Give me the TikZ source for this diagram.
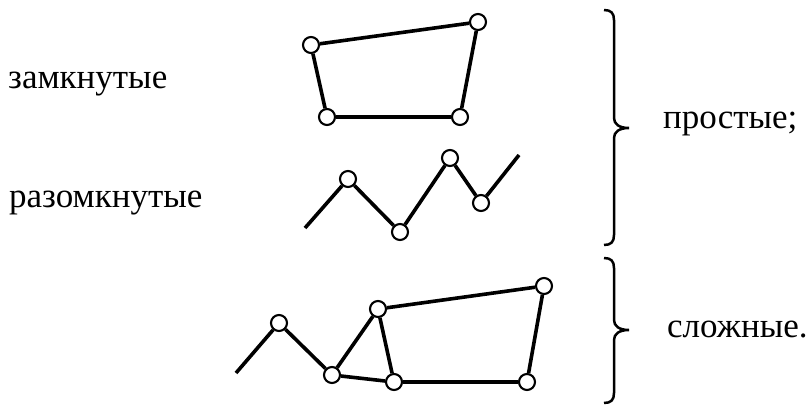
\documentclass[tikz,border=0pt]{standalone}
\usepackage{fontspec}
\setmainfont{Liberation Serif}
\usetikzlibrary{positioning}
\tikzset{
  vertex/.style={
    circle,
    draw=black,
    line width=2.1pt,
    fill=white,
    minimum size=16pt,
    inner sep=0pt
  },
  link/.style={
    line width=3.6pt,
    draw=black
  },
  brace/.style={
    line width=2.5pt,
    draw=black
  },
  caption/.style={
    anchor=base west,
    inner sep=0pt,
    font=\fontsize{35}{42}\selectfont
  }
}

\begin{document}
\begin{tikzpicture}[x=1pt, y=-1pt]
\useasboundingbox (0,0) rectangle (807,407);

\node[caption] (closed) at (8,88) {замкнутые};
\node[caption] (open) at (9,207) {разомкнутые};
\node[caption] (simple) at (663,128) {простые;};
\node[caption] (complex) at (667,337) {сложные.};

\node[vertex] (c1) at (311,45) {};
\node[vertex] (c2) at (478,22) {};
\node[vertex] (c3) at (460,117) {};
\node[vertex] (c4) at (327,117) {};
\draw[link] (c1) -- (c2);
\draw[link] (c2) -- (c3);
\draw[link] (c3) -- (c4);
\draw[link] (c4) -- (c1);

\coordinate (o0) at (305,228);
\node[vertex] (o1) at (348,179) {};
\node[vertex] (o2) at (400,232) {};
\node[vertex] (o3) at (450,158) {};
\node[vertex] (o4) at (481,203) {};
\coordinate (o5) at (519,155);
\draw[link] (o0) -- (o1);
\draw[link] (o1) -- (o2);
\draw[link] (o2) -- (o3);
\draw[link] (o3) -- (o4);
\draw[link] (o4) -- (o5);

\coordinate (s0) at (236,373);
\node[vertex] (s1) at (279,323) {};
\node[vertex] (s2) at (332,375) {};
\node[vertex] (s3) at (378,309) {};
\node[vertex] (s4) at (394,382) {};
\node[vertex] (s5) at (527,382) {};
\node[vertex] (s6) at (544,286) {};
\draw[link] (s0) -- (s1);
\draw[link] (s1) -- (s2);
\draw[link] (s2) -- (s3);
\draw[link] (s2) -- (s4);
\draw[link] (s3) -- (s4);
\draw[link] (s3) -- (s6);
\draw[link] (s6) -- (s5);
\draw[link] (s5) -- (s4);

\foreach \t/\m/\b in {10/128/245, 258/330/403} {
  \draw[brace] (604,\t) .. controls (611,\t) and (614,\t+3) .. (614,\t+10)
    -- (614,\m-10) .. controls (614,\m-4) and (619,\m) .. (629,\m)
    .. controls (619,\m) and (614,\m+4) .. (614,\m+10)
    -- (614,\b-10) .. controls (614,\b-3) and (611,\b) .. (604,\b);
}
\end{tikzpicture}
\end{document}
